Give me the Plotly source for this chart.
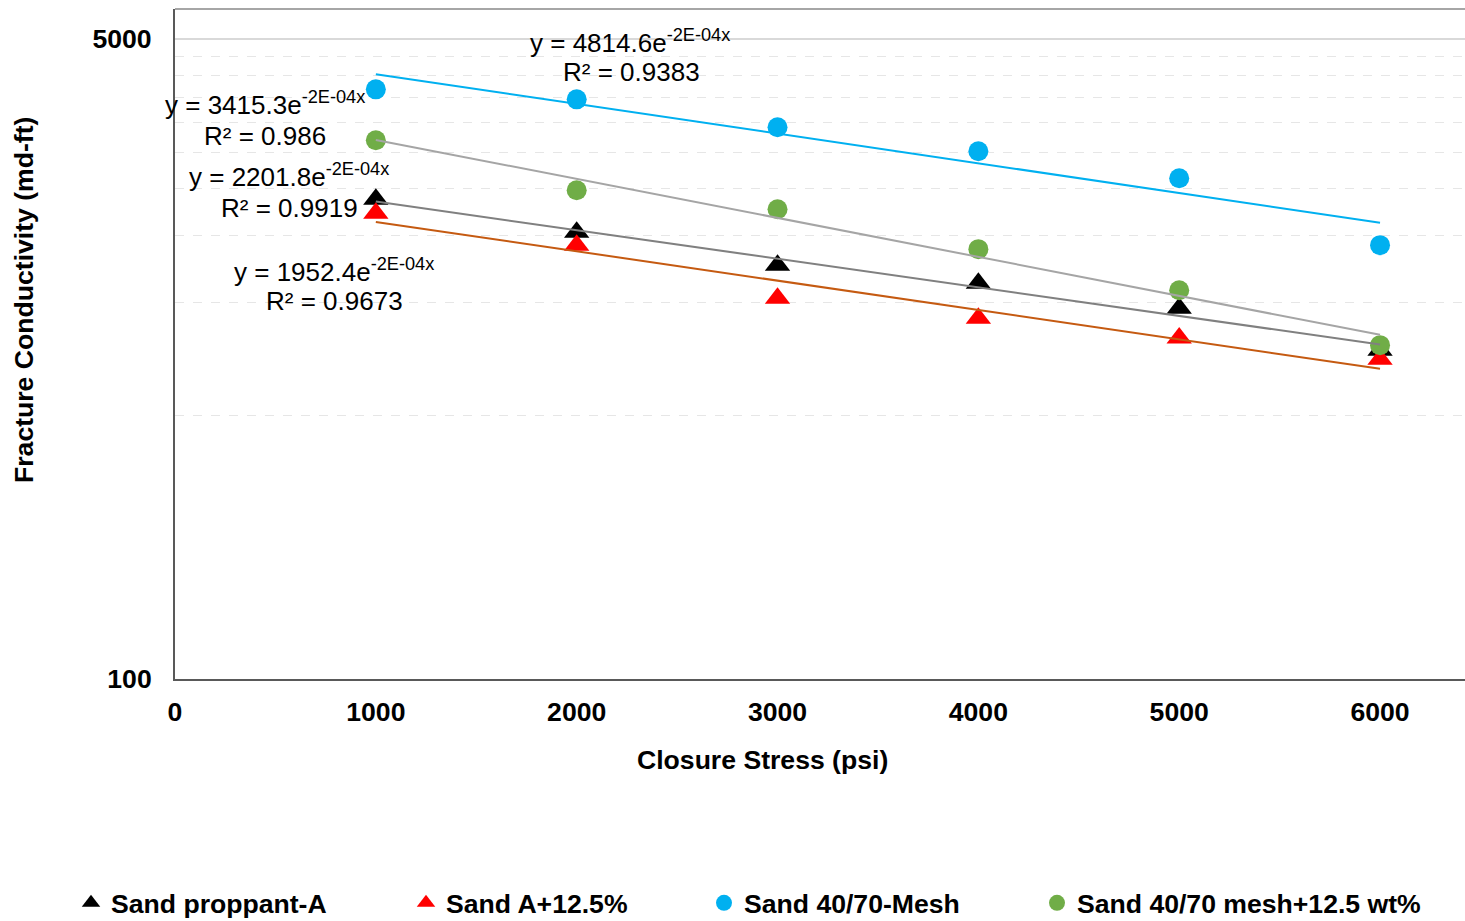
import numpy as np
import plotly.graph_objects as go

# ---------------- data ----------------
stress = [1000, 2000, 3000, 4000, 5000, 6000]
sand_a = [1876, 1533, 1254, 1123, 964, 746]
sand_a_125 = [1722, 1417, 1025, 907, 803, 706]
sand_4070 = [3673, 3455, 2912, 2515, 2133, 1417]
sand_4070_125 = [2690, 1982, 1765, 1383, 1076, 769]

series_names = ["Sand proppant-A", "Sand A+12.5%", "Sand 40/70-Mesh", "Sand 40/70 mesh+12.5 wt%"]
eq_labels = ["y = 2201.8e<sup>-2E-04x</sup>", "y = 1952.4e<sup>-2E-04x</sup>",
             "y = 4814.6e<sup>-2E-04x</sup>", "y = 3415.3e<sup>-2E-04x</sup>"]
r2_labels = ["R² = 0.9919", "R² = 0.9673", "R² = 0.9383", "R² = 0.986"]
y_ticks = [100, 5000]
y_minor = [500, 1000, 1500, 2000, 2500, 3000, 3500, 4000, 4500]
x_ticks = [0, 1000, 2000, 3000, 4000, 5000, 6000]

# ---------------- styling ----------------
W, H = 1465, 921
L, R, T, B = 175, 0, 9, 242
PW, PH = W - L - R, H - T - B
FONT = "Arial, Liberation Sans, sans-serif"
BOLD_SIZE = 26.6

def px(x):
    return (x - L) / PW

def py(y):
    return (H - B - y) / PH

marker_styles = [
    dict(symbol="triangle-up", color="#000000", size=22),
    dict(symbol="triangle-up", color="#FF0000", size=22),
    dict(symbol="circle", color="#00B0F0", size=20),
    dict(symbol="circle", color="#70AD47", size=20),
]
trend_colors = ["#808080", "#C55A11", "#00B0F0", "#A5A5A5"]
all_series = [sand_a, sand_a_125, sand_4070, sand_4070_125]
legend_ids = ["legend", "legend2", "legend3", "legend4"]
legend_text_x = [111, 446, 744, 1077]

fig = go.Figure()

for vals, name, ms, lid in zip(all_series, series_names, marker_styles, legend_ids):
    fig.add_trace(go.Scatter(x=stress, y=vals, mode="markers", name=name, legend=lid,
                             marker=dict(symbol=ms["symbol"], color=ms["color"], size=ms["size"],
                                         line=dict(width=0)),
                             showlegend=True))

# exponential trendlines (least squares on ln y, like Excel)
xs = np.array(stress, dtype=float)
for vals, col in zip(all_series, trend_colors):
    b, lna = np.polyfit(xs, np.log(np.array(vals, dtype=float)), 1)
    fit = np.exp(lna + b * xs)
    fig.add_trace(go.Scatter(x=xs, y=fit, mode="lines", line=dict(color=col, width=2),
                             showlegend=False, hoverinfo="skip"))

annotations = []
# equation labels (pixel positions of label centres)
eq_pos = [(289, 177, 289, 208), (334, 271, 334, 301), (630, 42, 631, 72), (265, 105, 265, 136)]
for (ex, ey, rx, ry), eq, r2 in zip(eq_pos, eq_labels, r2_labels):
    annotations.append(dict(x=px(ex), y=py(ey - 1), xref="paper", yref="paper", text=eq, showarrow=False,
                            xanchor="center", yanchor="middle", font=dict(family=FONT, size=26, color="#000000")))
    annotations.append(dict(x=px(rx), y=py(ry), xref="paper", yref="paper", text=r2, showarrow=False,
                            xanchor="center", yanchor="middle", font=dict(family=FONT, size=26, color="#000000")))

# axis titles
annotations.append(dict(x=px(24), y=py(300), xref="paper", yref="paper", text="<b>Fracture Conductivity (md-ft)</b>",
                        textangle=-90, showarrow=False, xanchor="center", yanchor="middle",
                        font=dict(family=FONT, size=BOLD_SIZE, color="#000000")))
annotations.append(dict(x=px(762), y=py(760), xref="paper", yref="paper", text="<b>Closure Stress (psi)</b>",
                        showarrow=False, xanchor="center", yanchor="middle",
                        font=dict(family=FONT, size=BOLD_SIZE, color="#000000")))

legend_common = dict(orientation="h", xanchor="left", yanchor="middle", y=py(903),
                     bgcolor="rgba(0,0,0,0)", borderwidth=0, itemwidth=30, itemsizing="trace",
                     font=dict(family=FONT, size=BOLD_SIZE, color="#000000", weight="bold"))
legends = {}
for lid, tx in zip(legend_ids, legend_text_x):
    legends[lid] = dict(legend_common, x=px(tx - 40))

fig.update_layout(
    width=W, height=H,
    margin=dict(l=L, r=R, t=T, b=B, autoexpand=False),
    paper_bgcolor="white", plot_bgcolor="white",
    annotations=annotations,
    shapes=[dict(type="line", xref="paper", yref="paper", x0=0, x1=1, y0=1, y1=1,
                 line=dict(color="#A6A6A6", width=2))],
    font=dict(family=FONT, color="#000000"),
    **legends,
)
fig.update_xaxes(range=[0, 6423], tickmode="array", tickvals=x_ticks, ticktext=[str(v) for v in x_ticks],
                 showgrid=False, zeroline=False, showline=True, linecolor="#595959", linewidth=2,
                 ticks="", ticklabelstandoff=8,
                 tickfont=dict(family=FONT, size=BOLD_SIZE, color="#000000", weight="bold"))
fig.update_yaxes(type="log", range=[np.log10(100), np.log10(6000)], tickmode="array",
                 tickvals=y_ticks, ticktext=[str(v) for v in y_ticks],
                 showgrid=True, gridcolor="#D9D9D9", gridwidth=2, zeroline=False,
                 showline=True, linecolor="#595959", linewidth=2, ticks="", ticklabelstandoff=16,
                 tickfont=dict(family=FONT, size=BOLD_SIZE, color="#000000", weight="bold"),
                 minor=dict(tickmode="array", tickvals=y_minor, showgrid=True, gridcolor="#E6E6E6",
                            gridwidth=1, griddash="dash", ticks=""))

fig.write_html("out.html")
